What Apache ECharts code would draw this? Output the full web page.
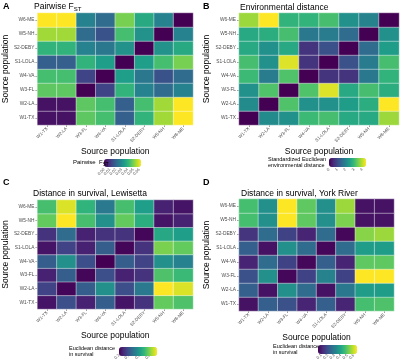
<!DOCTYPE html>
<html><head><meta charset="utf-8">
<script src="https://cdn.jsdelivr.net/npm/echarts@6/dist/echarts.min.js"></script>
<style>html,body{margin:0;padding:0;background:#fff}#c{width:400px;height:362px}</style>
</head><body><div id="c"></div>
<script>
// categories (x = columns, y = rows from bottom to top)
const pops = ['W1-TX','W2-LA','W3-FL','W4-VA','S1-LOLA','S2-DEBY','W5-NH','W6-ME'];

// Panel A: pairwise FST, rows W1-TX .. W6-ME
const fstRows = [
  [0.003,0.003,0.047,0.044,0.019,0.041,0.054,0.063],
  [0.003,0.003,0.047,0.044,0.019,0.044,0.054,0.063],
  [0.047,0.047,0.000,0.013,0.041,0.028,0.022,0.028],
  [0.044,0.044,0.013,0.000,0.035,0.025,0.016,0.022],
  [0.019,0.019,0.041,0.035,0.000,0.035,0.044,0.050],
  [0.041,0.041,0.028,0.025,0.032,0.000,0.032,0.038],
  [0.054,0.054,0.022,0.016,0.044,0.032,0.000,0.028],
  [0.063,0.063,0.028,0.022,0.050,0.038,0.028,0.000]
];
// Panel B: environmental distance
const envRows = [
  [0.00,2.14,2.23,3.03,3.12,2.67,2.67,3.78],
  [2.14,0.00,3.20,2.23,2.23,2.45,2.76,4.45],
  [2.23,3.20,0.00,3.20,4.23,2.67,3.12,2.76],
  [3.03,1.87,3.20,0.00,0.67,0.67,1.78,2.89],
  [3.12,2.23,4.23,0.67,0.00,1.11,1.87,3.12],
  [2.67,2.23,2.67,0.67,1.11,0.00,1.56,2.45],
  [2.67,2.76,3.12,1.78,1.87,1.56,0.00,2.23],
  [3.78,4.45,2.89,2.89,3.12,2.23,2.00,0.00]
];
// Panel C: distance in survival, Lewisetta
const lewRows = [
  [0.24,0.38,0.27,0.42,0.24,0.31,0.76,0.73],
  [0.35,0.21,0.42,0.57,0.38,0.50,0.94,0.90],
  [0.27,0.42,0.21,0.38,0.27,0.31,0.73,0.70],
  [0.42,0.57,0.38,0.20,0.42,0.35,0.57,0.53],
  [0.24,0.35,0.27,0.42,0.21,0.31,0.79,0.76],
  [0.31,0.46,0.27,0.31,0.31,0.21,0.64,0.61],
  [0.76,0.94,0.72,0.57,0.76,0.66,0.24,0.27],
  [0.72,0.90,0.68,0.50,0.72,0.61,0.27,0.24]
];
// Panel D: distance in survival, York River
const yorkRows = [
  [0.08,0.23,0.20,0.11,0.23,0.11,0.47,0.48],
  [0.23,0.08,0.35,0.26,0.08,0.29,0.38,0.38],
  [0.20,0.35,0.06,0.17,0.32,0.17,0.65,0.65],
  [0.11,0.26,0.17,0.06,0.23,0.11,0.50,0.50],
  [0.23,0.08,0.35,0.26,0.06,0.26,0.38,0.38],
  [0.14,0.26,0.17,0.11,0.26,0.06,0.54,0.56],
  [0.47,0.35,0.65,0.50,0.35,0.53,0.08,0.08],
  [0.47,0.35,0.65,0.50,0.35,0.56,0.08,0.08]
];
// colour-bar ranges and tick labels
const fstRange = [0, 0.063], fstTicks = [0, 0.01, 0.02, 0.03, 0.04, 0.05, 0.06];
const envRange = [0, 4.45], envTicks = [0, 1, 2, 3, 4];
const lewRange = [0.2, 0.94], lewTicks = [0.2, 0.4, 0.6, 0.8];
const yorkRange = [0.05, 0.65], yorkTicks = [0.1, 0.2, 0.3, 0.4, 0.5, 0.6];

const viridis = ['#440154','#482878','#3e4989','#31688e','#26828e','#1f9e89','#35b779','#6ece58','#b5de2b','#fde725'];
const FONT = 'Liberation Sans';
const toData = rows => { const d=[]; rows.forEach((r,yi)=>r.forEach((v,xi)=>d.push([xi,yi,v]))); return d; };

const panels = [
  {rows: fstRows, range: fstRange, ticks: fstTicks, dec: 2, grid: {left:35, top:13, width:158, height:112}, bar: {left:104, top:159, len:37, th:8}},
  {rows: envRows, range: envRange, ticks: envTicks, dec: 0, grid: {left:239, top:13, width:160, height:112}, bar: {left:329, top:158, len:37, th:9}},
  {rows: lewRows, range: lewRange, ticks: lewTicks, dec: 1, grid: {left:34, top:200, width:159, height:109}, bar: {left:119, top:347, len:38, th:9}},
  {rows: yorkRows, range: yorkRange, ticks: yorkTicks, dec: 1, grid: {left:239, top:199, width:155, height:112}, bar: {left:318, top:345, len:39, th:9}}
];

const grid=[], xAxis=[], yAxis=[], series=[], visualMap=[];
panels.forEach((p,i)=>{
  grid.push(Object.assign({}, p.grid));
  xAxis.push({gridIndex:i, type:'category', data:pops, name:'Source population', nameLocation:'middle', nameGap:22,
    nameTextStyle:{fontFamily:FONT, fontSize:8.5, color:'#000'},
    axisLine:{show:false}, axisTick:{show:true, length:2, alignWithLabel:true, lineStyle:{color:'#444', width:0.5}},
    axisLabel:{interval:0, rotate:45, fontSize:4.5, fontFamily:FONT, color:'#4d4d4d', margin:3}, splitLine:{show:false}});
  yAxis.push({gridIndex:i, type:'category', data:pops, name:'Source population', nameLocation:'middle', nameGap:26,
    nameTextStyle:{fontFamily:FONT, fontSize:8.5, color:'#000'},
    axisLine:{show:false}, axisTick:{show:true, length:2, alignWithLabel:true, lineStyle:{color:'#444', width:0.5}},
    axisLabel:{interval:0, fontSize:4.8, fontFamily:FONT, color:'#4d4d4d', margin:3}, splitLine:{show:false}});
  series.push({type:'heatmap', xAxisIndex:i, yAxisIndex:i, data:toData(p.rows),
    itemStyle:{borderColor:'rgba(255,255,255,0.55)', borderWidth:0.8}, emphasis:{disabled:true}});
  visualMap.push({type:'continuous', seriesIndex:i, min:p.range[0], max:p.range[1], orient:'horizontal',
    left:p.bar.left, top:p.bar.top, itemWidth:p.bar.th, itemHeight:p.bar.len, padding:0,
    calculable:false, hoverLink:false, realtime:false, text:null, showLabel:false, inRange:{color:viridis}});
});
// colour-bar tick axes
panels.forEach((p,i)=>{
  const gi = 4+i;
  grid.push({left:p.bar.left, top:p.bar.top, width:p.bar.len, height:p.bar.th});
  xAxis.push({gridIndex:gi, type:'value', min:p.range[0], max:p.range[1],
    axisLine:{show:false}, splitLine:{show:false},
    axisTick:{show:true, inside:true, length:2, customValues:p.ticks, lineStyle:{color:'#fff', width:0.6}},
    axisLabel:{show:true, customValues:p.ticks, rotate:45, fontSize:4, fontFamily:FONT, color:'#4d4d4d', margin:2,
      formatter: v => v.toFixed(p.dec)}});
  yAxis.push({gridIndex:gi, type:'value', show:false});
});

const rich = {
  n:{fontFamily:FONT, fontSize:8.5, fontWeight:'normal', color:'#000'},
  s:{fontFamily:FONT, fontSize:6, fontWeight:'normal', color:'#000', padding:[5,0,0,0]},
  ln:{fontFamily:FONT, fontSize:6, fontWeight:'normal', color:'#000'},
  ls:{fontFamily:FONT, fontSize:4.5, fontWeight:'normal', color:'#000', padding:[4,0,0,0]}
};
const mk = (text,left,top,size,bold,lh) => ({text, left, top, padding:0,
  textStyle:{fontFamily:FONT, fontSize:size, fontWeight:bold?'bold':'normal', color:'#000', rich, lineHeight:lh||size+1}});
const title = [
  mk('A',3,2,9,true), mk('B',203,2,9,true), mk('C',3,178,9,true), mk('D',203,178,9,true),
  mk('{n|Pairwise F}{s|ST}',34,2,8.5,false),
  mk('Environmental distance',240,3,8.5,false),
  mk('Distance in survival, Lewisetta',33,189,8.5,false),
  mk('Distance in survival, York River',241,189,8.5,false),
  mk('{ln|Pairwise  F}{ls|ST}',73,159,6,false),
  mk('Standardized Euclidean\nenvironmental distance',268,157,5.5,false,5.5),
  mk('Euclidean distance\nin survival',69,345,5.5,false,6),
  mk('Euclidean distance\nin survival',273,343,5.5,false,6)
];

const chart = echarts.init(document.getElementById('c'), null, {renderer:'canvas'});
chart.setOption({animation:false, backgroundColor:'#fff', title, grid, xAxis, yAxis, visualMap, series});
</script></body></html>
